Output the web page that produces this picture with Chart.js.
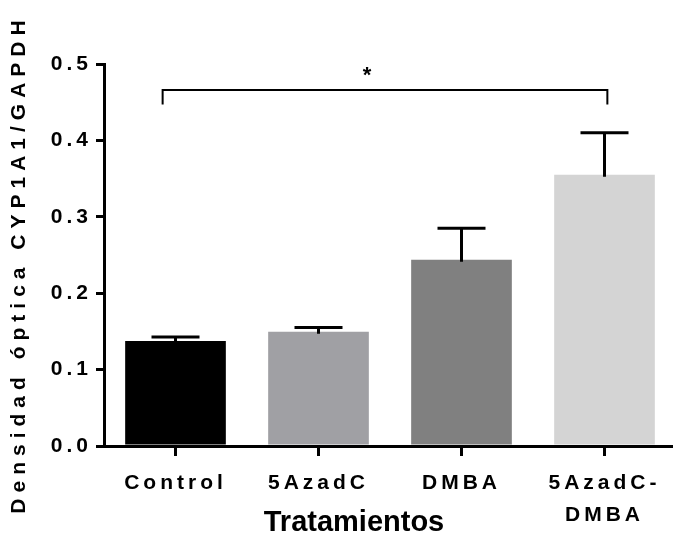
<!DOCTYPE html>
<html>
<head>
<meta charset="utf-8">
<script src="https://cdn.jsdelivr.net/npm/chart.js@4/dist/chart.umd.min.js"></script>
<style>
  html, body { margin: 0; padding: 0; background: #fff; overflow: hidden; }
  #wrap { width: 680px; height: 533px; position: relative; }
</style>
</head>
<body>
<div id="wrap"><canvas id="c"></canvas></div>
<script>
// ---- data ----
const categories = ['Control', '5AzadC', 'DMBA', '5AzadC-DMBA'];
const means = [0.1375, 0.1497, 0.2437, 0.355];
const errUpper = [0.1427, 0.155, 0.285, 0.41];
const barColors = ['#000000', '#a0a0a4', '#808080', '#d4d4d4'];
const yTitle = 'Densidad óptica CYP1A1/GAPDH';
const xTitle = 'Tratamientos';
const sigMark = '*';

// annotation placement (category index units / y values)
const bracket = { from: -0.09, to: 3.02, y: 0.466, legBottom: 0.447, starX: 1.34, starY: 0.489 };

const FAMILY = '"Liberation Sans", Arial, Helvetica, sans-serif';

const spacingPlugin = {
  id: 'spacing',
  beforeDraw(chart) { chart.ctx.letterSpacing = '4px'; },
  afterDraw(chart) { chart.ctx.letterSpacing = '0px'; }
};

const extrasPlugin = {
  id: 'extras',
  afterDatasetsDraw(chart) {
    const ctx = chart.ctx;
    const ys = chart.scales.y, xs = chart.scales.x;
    const meta = chart.getDatasetMeta(0);
    ctx.save();
    ctx.strokeStyle = '#000';
    ctx.lineWidth = 3;
    ctx.lineCap = 'butt';
    meta.data.forEach((bar, i) => {
      const x = bar.x;
      const y0 = ys.getPixelForValue(means[i]);
      const y1 = ys.getPixelForValue(errUpper[i]);
      ctx.beginPath();
      ctx.moveTo(x, y0 + 2);
      ctx.lineTo(x, y1);
      ctx.moveTo(x - 24, y1);
      ctx.lineTo(x + 24, y1);
      ctx.stroke();
    });
    // significance bracket
    const bx1 = xs.getPixelForValue(bracket.from);
    const bx2 = xs.getPixelForValue(bracket.to);
    const by = ys.getPixelForValue(bracket.y);
    const byl = ys.getPixelForValue(bracket.legBottom);
    ctx.lineWidth = 2;
    ctx.beginPath();
    ctx.moveTo(bx1, byl);
    ctx.lineTo(bx1, by);
    ctx.lineTo(bx2, by);
    ctx.lineTo(bx2, byl);
    ctx.stroke();
    ctx.fillStyle = '#000';
    ctx.font = 'bold 22px ' + FAMILY;
    ctx.textAlign = 'center';
    ctx.textBaseline = 'middle';
    ctx.letterSpacing = '0px';
    ctx.fillText(sigMark, xs.getPixelForValue(bracket.starX), ys.getPixelForValue(bracket.starY) + 4);
    ctx.restore();
  },
  afterDraw(chart) {
    const ctx = chart.ctx;
    ctx.save();
    ctx.fillStyle = '#000';
    // y title
    ctx.translate(19, 264);
    ctx.rotate(-Math.PI / 2);
    ctx.font = 'bold 21px ' + FAMILY;
    ctx.letterSpacing = '6px';
    ctx.textAlign = 'center';
    ctx.textBaseline = 'middle';
    ctx.fillText(yTitle, 0, 0);
    ctx.restore();
    ctx.save();
    ctx.fillStyle = '#000';
    ctx.font = 'bold 29px ' + FAMILY;
    ctx.letterSpacing = '0px';
    ctx.textAlign = 'center';
    ctx.textBaseline = 'alphabetic';
    ctx.fillText(xTitle, 354, 531);
    ctx.restore();
  }
};

new Chart(document.getElementById('c'), {
  type: 'bar',
  data: {
    labels: categories,
    datasets: [{
      data: means,
      backgroundColor: barColors,
      borderWidth: 0,
      categoryPercentage: 1,
      barPercentage: 0.704
    }]
  },
  options: {
    responsive: true,
    maintainAspectRatio: false,
    devicePixelRatio: 1,
    animation: false,
    layout: { padding: { top: 64, right: 4, left: 0, bottom: 0 } },
    plugins: { legend: { display: false }, tooltip: { enabled: false } },
    scales: {
      x: {
        type: 'category',
        offset: true,
        grid: { offset: false, drawOnChartArea: false, drawTicks: true, tickLength: 10, color: '#000', lineWidth: 3 },
        border: { display: true, color: '#000', width: 3 },
        ticks: {
          color: '#000',
          font: { family: FAMILY, size: 21, weight: 'bold', lineHeight: 1.52 },
          padding: 11,
          maxRotation: 0,
          autoSkip: false,
          callback: function (v, i) {
            const s = categories[i];
            const k = s.indexOf('-');
            return k > 0 ? [s.slice(0, k + 1), s.slice(k + 1)] : s;
          }
        },
        afterFit: s => { s.height = 87; }
      },
      y: {
        min: 0,
        max: 0.5,
        grid: { drawOnChartArea: false, drawTicks: true, tickLength: 8, color: '#000', lineWidth: 3 },
        border: { display: true, color: '#000', width: 3 },
        ticks: {
          stepSize: 0.1,
          color: '#000',
          font: { family: FAMILY, size: 21, weight: 'bold' },
          padding: 4,
          callback: v => Number(v).toFixed(1)
        },
        afterFit: s => { s.width = 104; }
      }
    }
  },
  plugins: [spacingPlugin, extrasPlugin]
});
</script>
</body>
</html>
